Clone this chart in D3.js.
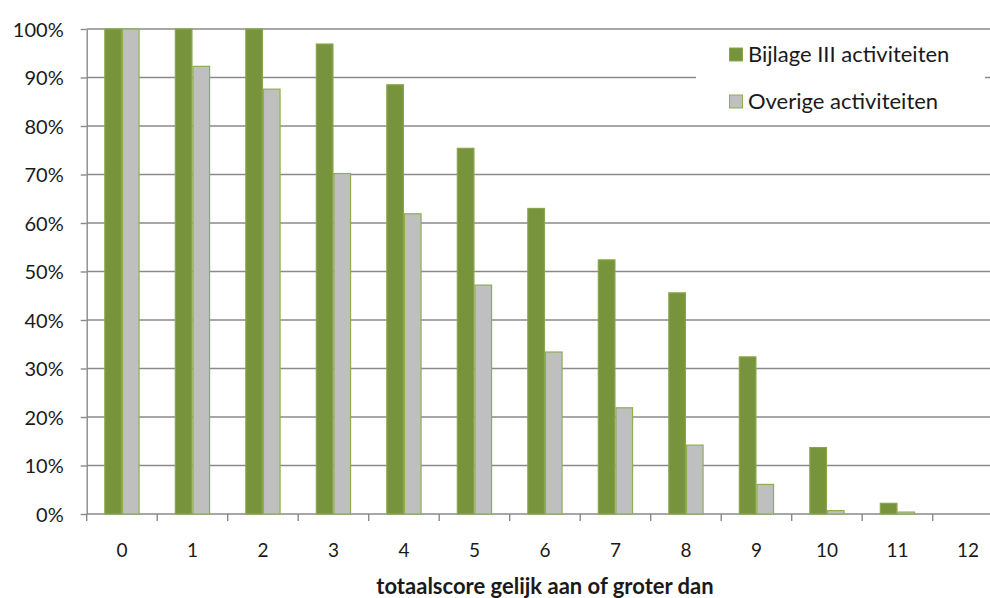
<!DOCTYPE html>
<html><head><meta charset="utf-8">
<script src="https://cdn.jsdelivr.net/npm/d3@7"></script>
<style>body{margin:0;background:#fff}svg{display:block}text{font-family:Lato,"Open Sans",sans-serif}</style>
</head><body>
<svg id="c" width="990" height="598"></svg>
<script>
const categories = ["0","1","2","3","4","5","6","7","8","9","10","11","12"];
const bijlage = [100,100,100,96.9,88.5,75.4,63.0,52.4,45.6,32.4,13.7,2.2,0];
const overige = [100,92.3,87.6,70.2,61.9,47.2,33.4,21.9,14.2,6.1,0.7,0.4,0];
const seriesNames = ["Bijlage III activiteiten","Overige activiteiten"];
const yTicks = [0,10,20,30,40,50,60,70,80,90,100];
const xTitle = "totaalscore gelijk aan of groter dan";

(function(){
const svg = d3.select("#c");
const pLeft = 86.7, pTop = 29, pBottom = 514, catW = 70.5;
const pRight = pLeft + catW*categories.length;
const x = d3.scaleBand().domain(categories).range([pLeft,pRight]).paddingInner(0.5).paddingOuter(0.25);
const y = d3.scaleLinear().domain([0,100]).range([pBottom,pTop]);
const sub = d3.scaleBand().domain([0,1]).range([0,x.bandwidth()]);

// gridlines
svg.append("g").selectAll("line").data(yTicks.filter(d=>d>0)).join("line")
  .attr("x1",pLeft).attr("x2",990).attr("y1",d=>y(d)).attr("y2",d=>y(d))
  .attr("stroke","#8a8a8a").attr("stroke-width",1.4);

// y axis
const ya = svg.append("g").attr("transform",`translate(${pLeft},0)`)
  .call(d3.axisLeft(y).tickValues(yTicks).tickFormat(d=>d+"%").tickSize(6).tickSizeOuter(0));
ya.select(".domain").attr("stroke","#8a8a8a").attr("stroke-width",1.4);
ya.selectAll(".tick line").attr("stroke","#8a8a8a").attr("stroke-width",1.4);
ya.selectAll("text").attr("font-size",20).attr("fill","#1a1a1a").attr("x",-23).attr("dy","0.36em");

// x axis with ticks between categories
const xa = svg.append("g").attr("transform",`translate(0,${pBottom})`);
xa.append("line").attr("x1",pLeft).attr("x2",990).attr("stroke","#8a8a8a").attr("stroke-width",1.4);
const xb = d3.scaleBand().domain(categories).range([pLeft,pRight]);
xa.selectAll("line.t").data(categories).join("line").attr("class","t")
  .attr("x1",d=>xb(d)).attr("x2",d=>xb(d)).attr("y1",0).attr("y2",7)
  .attr("stroke","#8a8a8a").attr("stroke-width",1.4);
xa.selectAll("text").data(categories).join("text")
  .attr("x",d=>xb(d)+xb.bandwidth()/2).attr("y",43).attr("text-anchor","middle")
  .attr("font-size",19).attr("fill","#1a1a1a").text(d=>d);

// bars
const data = categories.map((c,i)=>({c, v:[bijlage[i],overige[i]]}));
const fills = ["#77933c","#bfbfbf"];
const strokes = ["#8aa64d","#8cb050"];
const g = svg.append("g");
data.forEach(d=>{
  d.v.forEach((v,k)=>{
    g.append("rect").attr("x",x(d.c)+sub(k)+0.5).attr("y",y(v))
      .attr("width",sub.bandwidth()-1).attr("height",Math.max(0,y(0)-y(v)))
      .attr("fill",fills[k]).attr("stroke",strokes[k]).attr("stroke-width",1.2);
  });
});

// legend
const lg = svg.append("g");
lg.append("rect").attr("x",696).attr("y",36).attr("width",289).attr("height",83).attr("fill","#fff");
seriesNames.forEach((n,k)=>{
  const yy = 48 + k*47;
  lg.append("rect").attr("x",729.5).attr("y",yy).attr("width",13).attr("height",13)
    .attr("fill",fills[k]).attr("stroke",strokes[k]).attr("stroke-width",1);
  lg.append("text").attr("x",748).attr("y",yy+14).attr("font-size",22).attr("fill","#1a1a1a").text(n);
});

// x title
svg.append("text").attr("x",545).attr("y",594).attr("text-anchor","middle")
  .attr("font-size",22).attr("font-weight","bold").attr("fill","#1a1a1a").text(xTitle);
})();
</script>
</body></html>
